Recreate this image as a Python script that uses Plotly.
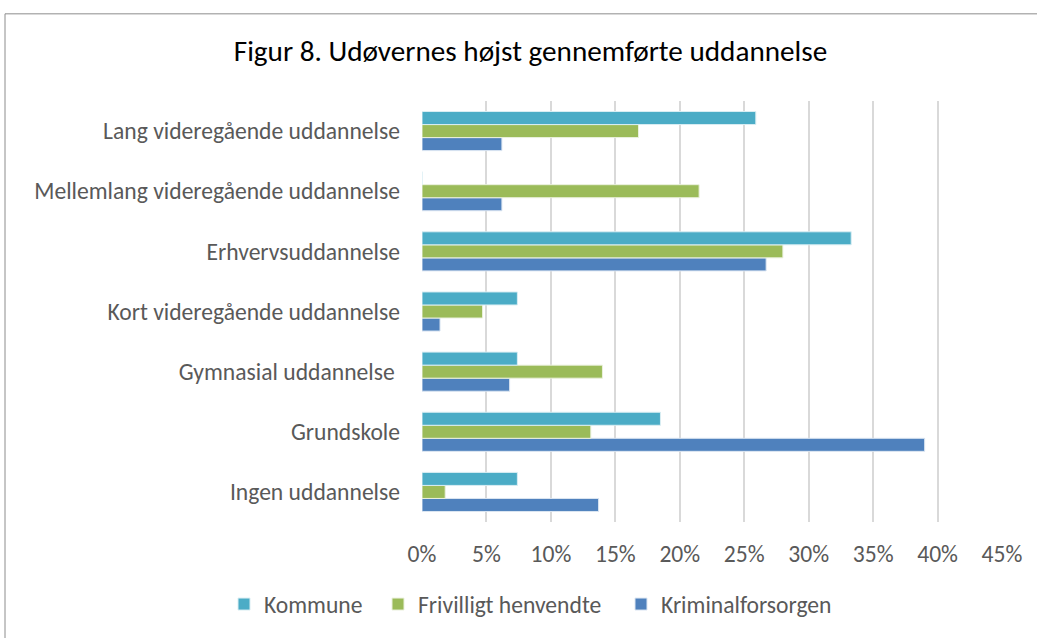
import plotly.graph_objects as go

# Categories listed bottom-to-top (as plotted)
categories = [
    "Ingen uddannelse",
    "Grundskole",
    "Gymnasial uddannelse\u00a0",
    "Kort videregående uddannelse",
    "Erhvervsuddannelse",
    "Mellemlang videregående uddannelse",
    "Lang videregående uddannelse",
]
kommune = [7.4, 18.5, 7.4, 7.4, 33.3, 0.0, 25.9]
frivilligt = [1.8, 13.1, 14.0, 4.7, 28.0, 21.5, 16.8]
kriminalforsorgen = [13.7, 39.0, 6.8, 1.4, 26.7, 6.2, 6.2]

x_ticks = [0, 5, 10, 15, 20, 25, 30, 35, 40, 45]
x_tick_labels = [f"{t}%" for t in x_ticks]

FONT = "Carlito, Calibri, Lato, sans-serif"
FS = 23.6

L, R, T, B = 422, 35, 101, 112
W, H = 1037, 638
pw, ph = W - L - R, H - T - B


def px_x(px):
    return (px - L) / pw


def px_y(py):
    return (H - B - py) / ph


fig = go.Figure()
fig.add_trace(go.Bar(y=categories, x=kriminalforsorgen, name="Kriminalforsorgen",
                     orientation="h", legend="legend3",
                     marker=dict(color="#4F81BD", line=dict(color="#DCE6F2", width=1))))
fig.add_trace(go.Bar(y=categories, x=frivilligt, name="Frivilligt henvendte",
                     orientation="h", legend="legend2",
                     marker=dict(color="#9BBB59", line=dict(color="#EBF1DE", width=1))))
fig.add_trace(go.Bar(y=categories, x=kommune, name="Kommune",
                     orientation="h", legend="legend",
                     marker=dict(color="#4BACC6", line=dict(color="#DAEEF3", width=1))))

leg_common = dict(orientation="h", xanchor="left", yanchor="middle", y=px_y(609),
                  font=dict(family=FONT, size=FS, color="#595959"),
                  bgcolor="rgba(0,0,0,0)", borderwidth=0, itemclick=False,
                  itemdoubleclick=False)

fig.update_layout(
    width=W, height=H,
    margin=dict(l=L, r=R, t=T, b=B),
    paper_bgcolor="white", plot_bgcolor="white",
    barmode="group", bargap=0.35, bargroupgap=0,
    font=dict(family=FONT, size=FS, color="#595959"),
    title=dict(text="Figur 8. Udøvernes højst gennemførte uddannelse",
               x=530.5 / W, xanchor="center", xref="container",
               y=1 - 51 / H, yanchor="middle", yref="container",
               font=dict(family=FONT, size=29.2, color="#000000")),
    showlegend=True,
    legend=dict(x=px_x(224), **leg_common),
    legend2=dict(x=px_x(378), **leg_common),
    legend3=dict(x=px_x(621), **leg_common),
    xaxis=dict(range=[0, 45], tickvals=x_ticks, ticktext=x_tick_labels,
               showgrid=True, gridcolor="#D9D9D9", gridwidth=1.5,
               zeroline=False, showline=False, ticks="", ticklabelstandoff=15,
               fixedrange=True),
    yaxis=dict(categoryorder="array", categoryarray=categories,
               showgrid=False, zeroline=False, showline=False, ticks="",
               ticklabelstandoff=21, fixedrange=True),
    shapes=[dict(type="rect", xref="paper", yref="paper",
                 x0=px_x(5), x1=px_x(1045), y0=px_y(13), y1=px_y(650),
                 line=dict(color="#8C8C8C", width=1), layer="below")],
)

fig.write_html("out.html", config={"displayModeBar": False},
               post_script="document.body.style.margin='0';document.body.style.overflow='hidden';")
